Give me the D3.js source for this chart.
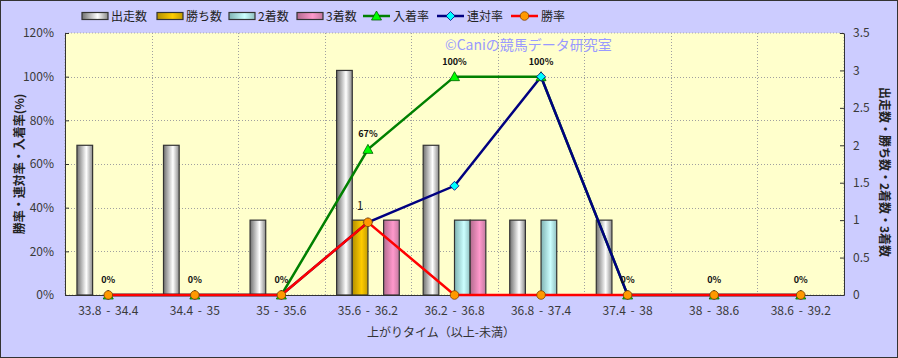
<!DOCTYPE html>
<html><head><meta charset="utf-8">
<script src="https://cdn.jsdelivr.net/npm/d3@7"></script>
<style>body{margin:0;background:#fff}svg{display:block}</style>
</head><body>
<script>
const categories = ["33.8 - 34.4","34.4 - 35","35 - 35.6","35.6 - 36.2","36.2 - 36.8","36.8 - 37.4","37.4 - 38","38 - 38.6","38.6 - 39.2"];
const runs    = [2,2,1,3,2,1,1,0,0];
const wins    = [0,0,0,1,0,0,0,0,0];
const seconds = [0,0,0,0,1,1,0,0,0];
const thirds  = [0,0,0,1,1,0,0,0,0];
const placeRate   = [0,0,0,66.7,100,100,0,0,0];
const rentaiRate  = [0,0,0,33.3,50,100,0,0,0];
const winRate     = [0,0,0,33.3,0,0,0,0,0];
const placeLabels = ["0%","0%","0%","67%","100%","100%","0%","0%","0%"];
const leftTicks  = [0,20,40,60,80,100,120];
const rightTicks = [0,0.5,1,1.5,2,2.5,3,3.5];
const barSeries = ["出走数","勝ち数","2着数","3着数"];
const lineSeries = ["入着率","連対率","勝率"];

const W=898,H=358;
const m={l:65,r:844,t:33,b:295};
const font='"Noto Sans CJK JP","Noto Sans",sans-serif';
const svg=d3.select("body").append("svg").attr("width",W).attr("height",H);
const defs=svg.append("defs");
function grad(id,edgeL,mid,edgeR){
  const g=defs.append("linearGradient").attr("id",id).attr("x1","0").attr("x2","1").attr("y1","0").attr("y2","0");
  g.append("stop").attr("offset","0").attr("stop-color",edgeL);
  g.append("stop").attr("offset","0.6").attr("stop-color",mid);
  g.append("stop").attr("offset","1").attr("stop-color",edgeR);
}
grad("g0","#707070","#ffffff","#8a8a8a");
grad("g1","#b38f00","#ffcc00","#c49c00");
grad("g2","#7fb3b3","#ccffff","#8fc0c0");
grad("g3","#b36b8f","#ff99cc","#c47aa0");
const fills=["url(#g0)","url(#g1)","url(#g2)","url(#g3)"];

svg.append("rect").attr("x",0.5).attr("y",0.5).attr("width",W-1).attr("height",H-1).attr("fill","#ccccff").attr("stroke","#333");
svg.append("rect").attr("x",m.l).attr("y",m.t).attr("width",m.r-m.l).attr("height",m.b-m.t).attr("fill","#ffffcc").attr("stroke","#aaa").attr("stroke-dasharray","1,2");

const x=d3.scaleBand().domain(categories).range([m.l,m.r]).paddingInner(0).paddingOuter(0);
const yL=d3.scaleLinear().domain([0,120]).range([m.b,m.t]);
const yR=d3.scaleLinear().domain([0,3.5]).range([m.b,m.t]);

// grid
const gg=svg.append("g").attr("stroke","#a0a0a0").attr("stroke-dasharray","1,2").attr("stroke-width",1);
leftTicks.slice(1,-1).forEach(t=>gg.append("line").attr("x1",m.l).attr("x2",m.r).attr("y1",Math.round(yL(t))+0.5).attr("y2",Math.round(yL(t))+0.5));
categories.slice(1).forEach(c=>gg.append("line").attr("x1",Math.round(x(c))+0.5).attr("x2",Math.round(x(c))+0.5).attr("y1",m.t).attr("y2",m.b));

// axes
const axL=d3.axisLeft(yL).tickValues(leftTicks).tickFormat(d=>d+"%").tickSizeInner(-4).tickSizeOuter(0).tickPadding(11);
const gL=svg.append("g").attr("transform",`translate(${m.l},0)`).call(axL);
const axR=d3.axisRight(yR).tickValues(rightTicks).tickFormat(d=>d).tickSizeInner(-4).tickSizeOuter(0).tickPadding(9);
const gR=svg.append("g").attr("transform",`translate(${m.r},0)`).call(axR);
const axB=d3.axisBottom(x).tickSize(0).tickPadding(11);
const gB=svg.append("g").attr("transform",`translate(0,${m.b})`).call(axB);
[gL,gR,gB].forEach(g=>{g.selectAll("text").attr("font-family",font).attr("font-size",12).attr("fill","#3a3a3a");g.select(".domain").attr("stroke","#333");g.selectAll(".tick line").attr("stroke","#333");});
gB.selectAll("text").attr("word-spacing","2px");

// bars
const bw=x.bandwidth()*0.181;
const barData=[runs,wins,seconds,thirds];
const bg=svg.append("g");
barData.forEach((arr,si)=>{
  bg.selectAll(null).data(arr.map((v,i)=>({v,c:categories[i]}))).enter().filter(d=>d.v>0)
    .append("rect")
    .attr("x",d=>x(d.c)+x.bandwidth()/2-2*bw+si*bw)
    .attr("y",d=>yR(d.v)).attr("width",bw).attr("height",d=>yR(0)-yR(d.v))
    .attr("fill",fills[si]).attr("stroke","#333").attr("stroke-width",1.2);
});
// wins label
wins.forEach((v,i)=>{ if(v>0) svg.append("text").attr("x",x(categories[i])+x.bandwidth()/2-bw/2).attr("y",yR(v)-10).attr("text-anchor","middle").attr("font-family",font).attr("font-size",12).attr("fill","#222").text(v);});

// lines
const cx=c=>x(c)+x.bandwidth()/2;
const lineGen=d3.line().x((d,i)=>cx(categories[i])).y(d=>yL(d));
const lines=[{d:placeRate,c:"#008000"},{d:rentaiRate,c:"#000080"},{d:winRate,c:"#ff0000"}];
lines.forEach(l=>svg.append("path").attr("d",lineGen(l.d)).attr("fill","none").attr("stroke",l.c).attr("stroke-width",2.5));
// markers
function tri(g,px,py){g.append("path").attr("d",`M${px},${py-5}L${px+5},${py+4}L${px-5},${py+4}Z`).attr("fill","#00ff00").attr("stroke","#006000").attr("stroke-width",0.8);}
function dia(g,px,py){g.append("path").attr("d",`M${px},${py-4.5}L${px+4.5},${py}L${px},${py+4.5}L${px-4.5},${py}Z`).attr("fill","#00ffff").attr("stroke","#000080").attr("stroke-width",0.8);}
function circ(g,px,py){g.append("circle").attr("cx",px).attr("cy",py).attr("r",4.3).attr("fill","#ff9900").attr("stroke","#804000").attr("stroke-width",0.8);}
const mg=svg.append("g");
placeRate.forEach((v,i)=>tri(mg,cx(categories[i]),yL(v)));
rentaiRate.forEach((v,i)=>dia(mg,cx(categories[i]),yL(v)));
winRate.forEach((v,i)=>circ(mg,cx(categories[i]),yL(v)));
// place labels
placeRate.forEach((v,i)=>svg.append("text").attr("x",cx(categories[i])).attr("y",yL(v)-12).attr("text-anchor","middle").attr("font-family",font).attr("font-size",9).attr("font-weight","bold").attr("fill","#111").text(placeLabels[i]));

// titles
svg.append("text").attr("transform",`translate(24,${(m.t+m.b)/2}) rotate(-90)`).attr("text-anchor","middle").attr("font-family",font).attr("font-size",12).attr("font-weight","bold").attr("fill","#222").text("勝率・連対率・入着率(%)");
svg.append("text").attr("transform",`translate(880,${(m.t+m.b)/2+8}) rotate(90)`).attr("text-anchor","middle").attr("font-family",font).attr("font-size",12).attr("font-weight","bold").attr("fill","#222").text("出走数・勝ち数・2着数・3着数");
svg.append("text").attr("x",441).attr("y",337).attr("text-anchor","middle").attr("font-family",font).attr("font-size",12).attr("fill","#333").text("上がりタイム（以上-未満）");
svg.append("text").attr("x",445).attr("y",50).attr("font-family",font).attr("font-size",14).attr("fill","#9999ff").text("©Caniの競馬データ研究室");

// legend
const lg=svg.append("g").attr("font-family",font).attr("font-size",12).attr("fill","#222");
const barLegX=[82,157,229,297];
barSeries.forEach((s,i)=>{
  lg.append("rect").attr("x",barLegX[i]).attr("y",12.5).attr("width",26).attr("height",7).attr("fill",fills[i]).attr("stroke","#333").attr("stroke-width",1.2);
  lg.append("text").attr("x",barLegX[i]+29).attr("y",21).text(s);
});
const lineLegX=[363,437,511];
const markerFns=[tri,dia,circ];
lineSeries.forEach((s,i)=>{
  lg.append("line").attr("x1",lineLegX[i]).attr("x2",lineLegX[i]+27).attr("y1",16).attr("y2",16).attr("stroke",lines[i].c).attr("stroke-width",2.5);
  markerFns[i](lg,lineLegX[i]+13.5,16);
  lg.append("text").attr("x",lineLegX[i]+30).attr("y",21).text(s);
});
</script>
</body></html>
